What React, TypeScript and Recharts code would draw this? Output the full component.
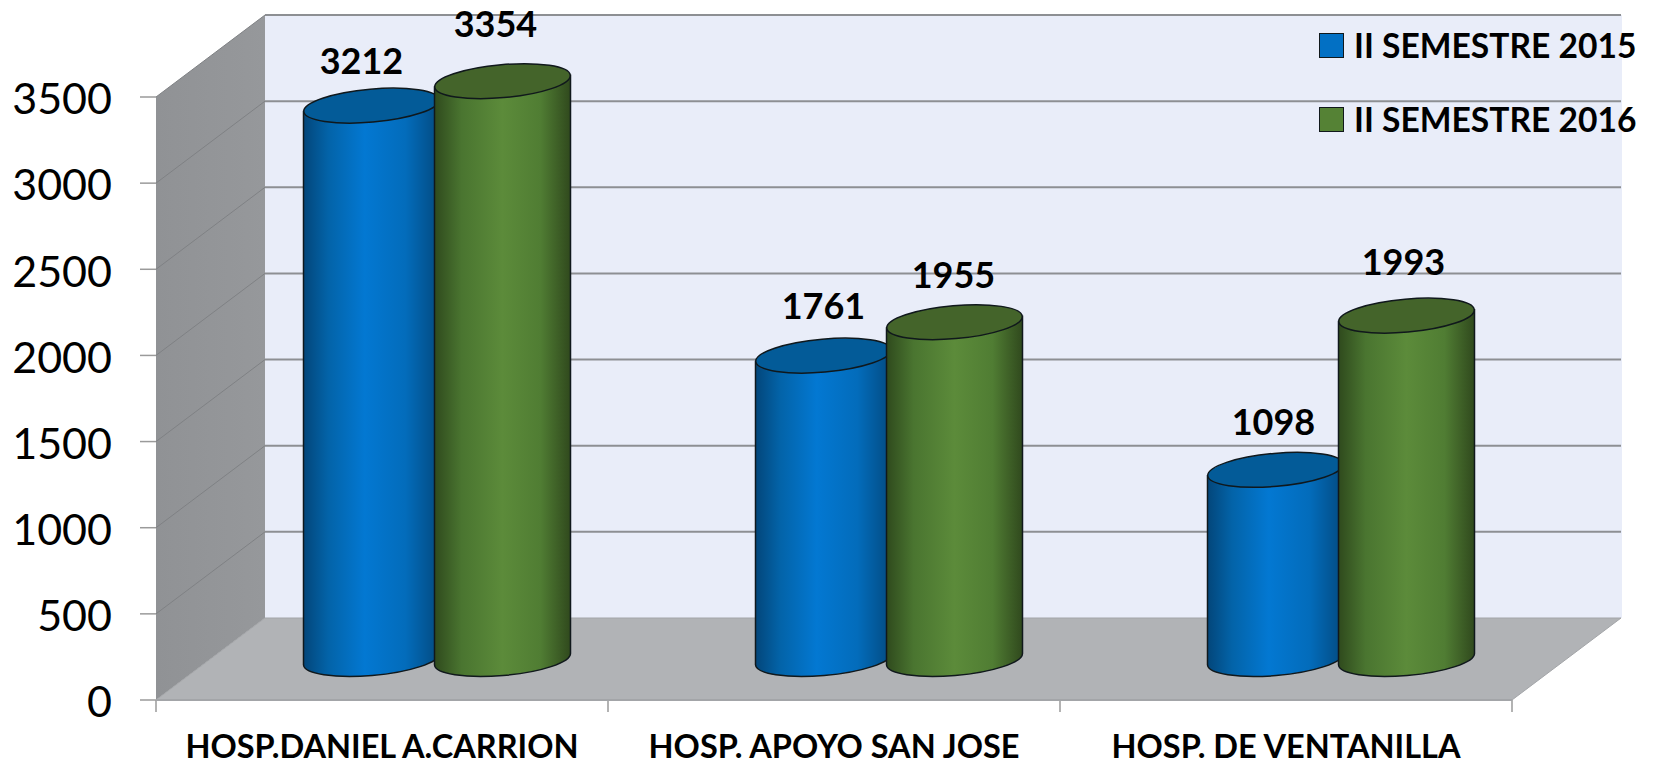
import React from 'react';
import { BarChart, Bar, XAxis, YAxis, CartesianGrid, Legend, LabelList, ReferenceArea } from 'recharts';

const categories = ['HOSP.DANIEL A.CARRION', 'HOSP. APOYO SAN JOSE', 'HOSP. DE VENTANILLA'];
const semester2015 = [3212, 1761, 1098];
const semester2016 = [3354, 1955, 1993];
const yTicks = [0, 500, 1000, 1500, 2000, 2500, 3000, 3500];

const data = categories.map((name, i) => ({
  name,
  s2015: semester2015[i],
  s2016: semester2016[i],
}));

const WIDTH = 1673;
const HEIGHT = 763;
// how far the back wall is pushed away from the front plane
const DEPTH_X = 109;
const DEPTH_Y = 82;
// labels were dragged by hand in the original
const nudge2015 = [[-10, -46], [0, -51], [-2, -49]];
const nudge2016 = [[-7, -58], [-1, -48], [-3, -55]];

const FONT = 'Lato, Carlito, sans-serif';

const Walls = (props: any) => {
  const { x, y, width, height } = props;
  const bottom = y + height;
  const right = x + width;
  const step = width / categories.length;
  const ticks = [0, 1, 2, 3].map((i) => x + step * i);
  return (
    <g>
      <polygon
        points={`${x + DEPTH_X},${y - DEPTH_Y} ${right + DEPTH_X + 1},${y - DEPTH_Y} ${right + DEPTH_X + 1},${bottom - DEPTH_Y} ${x + DEPTH_X},${bottom - DEPTH_Y}`}
        fill="#e9edf9"
      />
      <line x1={x + DEPTH_X} y1={y - DEPTH_Y} x2={right + DEPTH_X} y2={y - DEPTH_Y} stroke="#9a9a9a" strokeWidth={2} />
      <polygon
        points={`${x},${y} ${x + DEPTH_X},${y - DEPTH_Y} ${x + DEPTH_X},${bottom - DEPTH_Y} ${x},${bottom}`}
        fill="url(#wallFill)"
      />
      <polygon
        points={`${x},${bottom} ${x + DEPTH_X},${bottom - DEPTH_Y} ${right + DEPTH_X},${bottom - DEPTH_Y} ${right},${bottom}`}
        fill="#b1b3b6"
        stroke="#a3a5a8"
      />
      {ticks.map((t) => (
        <line key={t} x1={t} y1={bottom} x2={t} y2={bottom + 12} stroke="#9a9a9a" strokeWidth={1.5} />
      ))}
    </g>
  );
};

const gridLine = (props: any) => {
  const { x1, x2, y1 } = props;
  if (y1 > 690) return <g key={y1} />;
  return (
    <g key={y1}>
      <line x1={x1} y1={y1} x2={x1 + DEPTH_X} y2={y1 - DEPTH_Y} stroke="#7f8184" strokeWidth={1} />
      <line x1={x1 + DEPTH_X} y1={y1 - DEPTH_Y} x2={x2 + DEPTH_X} y2={y1 - DEPTH_Y} stroke="#8d8f93" strokeWidth={2} />
    </g>
  );
};

// cylinder sitting halfway into the floor
const Cylinder = (props: any) => {
  const { x, y, width, height, body, top } = props;
  const rx = width / 2;
  const ry = 16.5;
  const tilt = 5.75;
  const left = x + DEPTH_X / 2;
  const right = left + width;
  const cx = left + rx;
  const topY = y - DEPTH_Y / 2;
  const baseY = y + height - DEPTH_Y / 2;
  const d = `M${left},${topY + tilt} L${left},${baseY + tilt} A${rx},${ry} -5 0 0 ${right},${baseY - tilt} L${right},${topY - tilt} Z`;
  return (
    <g>
      <path d={d} fill={`url(#${body})`} stroke="#10181c" strokeWidth={1.5} />
      <ellipse
        cx={cx}
        cy={topY}
        rx={rx}
        ry={ry}
        fill={top}
        stroke="#10181c"
        strokeWidth={1.5}
        transform={`rotate(-5 ${cx} ${topY})`}
      />
    </g>
  );
};

const valueLabel = (nudge: number[][]) => (props: any) => {
  const { x, y, width, value, index } = props;
  const [dx, dy] = nudge[index];
  return (
    <text
      x={x + width / 2 + DEPTH_X / 2 + dx}
      y={y - DEPTH_Y / 2 + dy}
      textAnchor="middle"
      dominantBaseline="central"
      fontFamily={FONT}
      fontWeight={700}
      fontSize={36}
      fill="#000"
    >
      {value}
    </text>
  );
};

const CategoryTick = (props: any) => {
  const { x, y, payload } = props;
  return (
    <text x={x} y={y + 37} textAnchor="middle" dominantBaseline="central" fontFamily={FONT} fontWeight={700} fontSize={32.5} fill="#000">
      {payload.value}
    </text>
  );
};

const legendItems = [
  { label: 'II SEMESTRE 2015', color: '#0270c4' },
  { label: 'II SEMESTRE 2016', color: '#558235' },
];

const LegendBox = () => (
  <div style={{ fontFamily: FONT }}>
    {legendItems.map((item) => (
      <div key={item.label} style={{ display: 'flex', alignItems: 'center', height: 74 }}>
        <span style={{ width: 23, height: 23, background: item.color, border: '1px solid #10181c', marginRight: 10 }} />
        <span style={{ fontSize: 33.6, fontWeight: 700, color: '#000', whiteSpace: 'nowrap' }}>{item.label}</span>
      </div>
    ))}
  </div>
);

export default function App() {
  return (
    <div style={{ position: 'absolute', left: 0, top: 0, width: WIDTH, height: HEIGHT, background: '#fff' }}>
      <BarChart
        width={WIDTH}
        height={HEIGHT}
        data={data}
        margin={{ top: 97, right: 161, bottom: 0, left: 0 }}
        barSize={136}
        barGap={-5}
      >
        <defs>
          <linearGradient id="wallFill" x1="0" y1="0" x2="1" y2="0">
            <stop offset="0" stopColor="#909295" />
            <stop offset="1" stopColor="#96989b" />
          </linearGradient>
          <linearGradient id="blueBody" x1="0" y1="0" x2="1" y2="0">
            <stop offset="0" stopColor="#03467a" />
            <stop offset="0.18" stopColor="#0363a8" />
            <stop offset="0.45" stopColor="#0378d2" />
            <stop offset="0.75" stopColor="#036cbb" />
            <stop offset="1" stopColor="#034a80" />
          </linearGradient>
          <linearGradient id="greenBody" x1="0" y1="0" x2="1" y2="0">
            <stop offset="0" stopColor="#2f4a1d" />
            <stop offset="0.2" stopColor="#4a7530" />
            <stop offset="0.5" stopColor="#5c8b3a" />
            <stop offset="0.78" stopColor="#507d33" />
            <stop offset="1" stopColor="#30491d" />
          </linearGradient>
        </defs>
        <ReferenceArea y1={0} y2={3500} shape={<Walls />} ifOverflow="visible" zIndex={-200} />
        <CartesianGrid vertical={false} horizontal={gridLine} />
        <XAxis
          dataKey="name"
          height={63}
          interval={0}
          axisLine={{ stroke: '#a3a5a8', strokeWidth: 2 }}
          tickLine={false}
          tick={<CategoryTick />}
        />
        <YAxis
          width={156}
          domain={[0, 3500]}
          ticks={yTicks}
          interval={0}
          tickSize={16}
          tickMargin={28}
          axisLine={false}
          tickLine={{ stroke: '#9a9a9a', strokeWidth: 1.5 }}
          tick={{ fill: '#000', fontFamily: FONT, fontSize: 43, dy: 2 }}
        />
        <Legend
          layout="horizontal"
          verticalAlign="middle"
          content={<LegendBox />}
          wrapperStyle={{ position: 'absolute', left: 1319, top: 8, width: 354 }}
        />
        <Bar dataKey="s2015" isAnimationActive={false} shape={<Cylinder body="blueBody" top="#035b98" />}>
          <LabelList dataKey="s2015" content={valueLabel(nudge2015)} />
        </Bar>
        <Bar dataKey="s2016" isAnimationActive={false} shape={<Cylinder body="greenBody" top="#44642a" />}>
          <LabelList dataKey="s2016" content={valueLabel(nudge2016)} />
        </Bar>
      </BarChart>
    </div>
  );
}
